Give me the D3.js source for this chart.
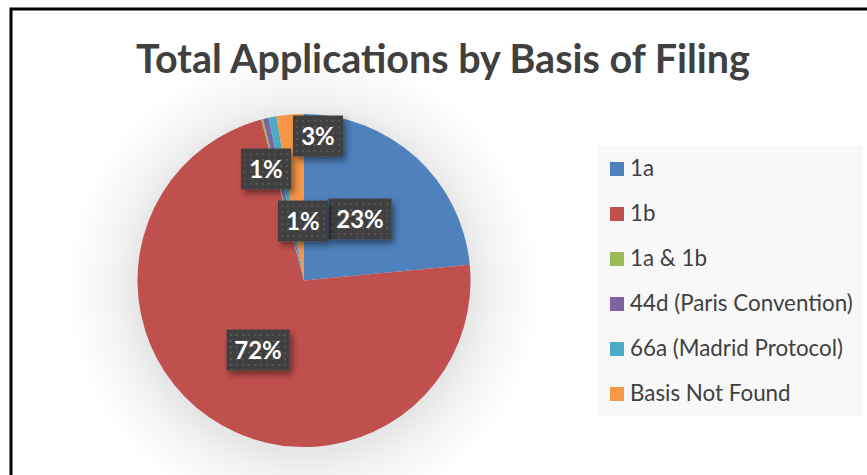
<!DOCTYPE html>
<html><head><meta charset="utf-8">
<script src="https://cdn.jsdelivr.net/npm/d3@7"></script>
<style>body{margin:0;background:#fff;} svg{display:block;}</style>
</head><body>
<svg id="c" width="867" height="475"></svg>
<script>
const categories = ["1a","1b","1a & 1b","44d (Paris Convention)","66a (Madrid Protocol)","Basis Not Found"];
const values = [23.5, 72.37, 0.17, 0.53, 0.78, 2.65];
const colors = ["#4F81BD","#C0504D","#9BBB59","#8064A2","#4BACC6","#F79646"];
const titleText = "Total Applications by Basis of Filing";

const svg = d3.select("#c");
const W = 867, H = 475;
const cx = 304, cy = 280.5, R = 166.5;
const font = "Lato, 'Open Sans', sans-serif";

const defs = svg.append("defs");
const rg = defs.append("radialGradient").attr("id","glow").attr("gradientUnits","userSpaceOnUse")
  .attr("cx",cx).attr("cy",cy+6).attr("r",R+70);
rg.append("stop").attr("offset","0.7").attr("stop-color","#e6e6e6");
rg.append("stop").attr("offset","0.78").attr("stop-color","#f0f0f0");
rg.append("stop").attr("offset","0.9").attr("stop-color","#f9f9f9");
rg.append("stop").attr("offset","1").attr("stop-color","#ffffff");
const pat = defs.append("pattern").attr("id","dots").attr("patternUnits","userSpaceOnUse")
  .attr("width",6).attr("height",6);
pat.append("rect").attr("width",6).attr("height",6).attr("fill","#3f3f3f");
pat.append("rect").attr("x",2).attr("y",2).attr("width",2).attr("height",2).attr("fill","#555555");
const f = defs.append("filter").attr("id","sh").attr("x","-30%").attr("y","-30%").attr("width","160%").attr("height","170%");
f.append("feDropShadow").attr("dx",3).attr("dy",4).attr("stdDeviation",3).attr("flood-color","#000").attr("flood-opacity",0.45);

svg.append("rect").attr("width",W).attr("height",H).attr("fill","#fff");
svg.append("circle").attr("cx",cx).attr("cy",cy+6).attr("r",R+70).attr("fill","url(#glow)");

// border (left and top visible)
svg.append("path").attr("d",`M11,${H+5} L11,9 L${W+5},9`).attr("fill","none").attr("stroke","#000").attr("stroke-width",3);

// title
const t = svg.append("text").attr("x",443).attr("y",73).attr("text-anchor","middle")
  .attr("font-family",font).attr("font-weight","bold").attr("font-size",34).attr("fill","#404040").text(titleText);
const tw = t.node().getComputedTextLength();
t.attr("font-size", 34*614/tw);

// pie
const pie = d3.pie().sort(null).value(d=>d)(values);
const arc = d3.arc().innerRadius(0).outerRadius(R);
const g = svg.append("g").attr("transform",`translate(${cx},${cy})`);
g.selectAll("path").data(pie).join("path").attr("d",arc).attr("fill",(d,i)=>colors[i]);

// labels
const pct = d3.format(".0%");
const total = d3.sum(values);
const labelCenters = {"1a":[360,219],"1b":[258,350],"44d (Paris Convention)":[303,221],"66a (Madrid Protocol)":[266,169],"Basis Not Found":[318,136]};
const lg = svg.append("g");
pie.forEach((d,i)=>{
  const p = labelCenters[categories[i]];
  if(!p) return;
  const txt = pct(values[i]/total);
  const w = txt.length>2?63:50, h=41;
  const gg = lg.append("g").attr("transform",`translate(${p[0]},${p[1]})`);
  gg.append("rect").attr("x",-w/2).attr("y",-h/2).attr("width",w).attr("height",h).attr("fill","url(#dots)").attr("filter","url(#sh)");
  gg.append("text").attr("text-anchor","middle").attr("y",8.5).attr("font-family",font).attr("font-weight","bold")
    .attr("font-size",24).attr("fill","#fff").text(txt);
});

// legend
svg.append("rect").attr("x",598).attr("y",146).attr("width",265).attr("height",270).attr("fill","#f8f8f8");
const leg = svg.append("g");
const legTexts = [];
categories.forEach((c,i)=>{
  const y = 169 + i*45;
  leg.append("rect").attr("x",610).attr("y",y-7).attr("width",14).attr("height",14).attr("fill",colors[i]);
  legTexts.push(leg.append("text").attr("x",630).attr("y",y+7).attr("font-family",font).attr("font-size",20).attr("fill","#404040").text(c));
});
const lw = legTexts[4].node().getComputedTextLength();
const lfs = 20*213/lw;
legTexts.forEach(tt=>tt.attr("font-size",lfs));
</script>
</body></html>
